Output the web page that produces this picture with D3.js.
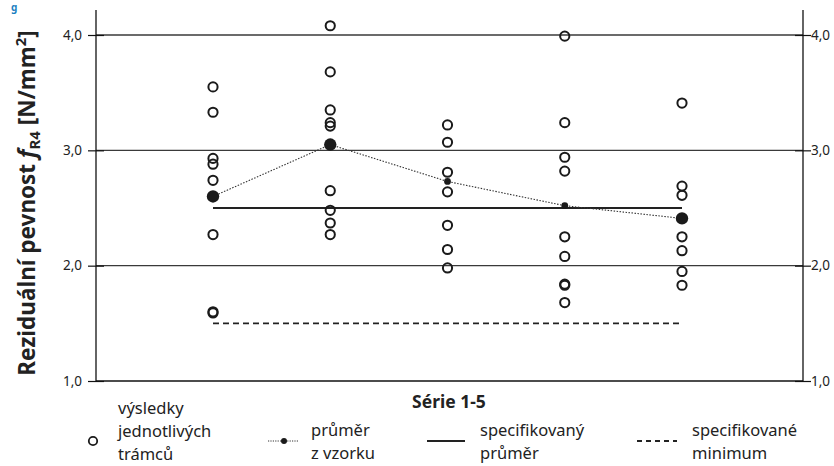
<!DOCTYPE html>
<html><head><meta charset="utf-8">
<script src="https://cdn.jsdelivr.net/npm/d3@7/dist/d3.min.js"></script>
<style>body{margin:0;background:#fff}svg{display:block}text{font-family:"Noto Sans",sans-serif}</style>
</head><body>
<script>
const series = ["1","2","3","4","5"];
const results = [
  [3.55,3.33,2.93,2.88,2.74,2.27,1.60,1.59],
  [4.08,3.68,3.35,3.24,3.21,2.65,2.48,2.37,2.27],
  [3.22,3.07,2.81,2.64,2.35,2.14,1.98],
  [3.99,3.24,2.94,2.82,2.25,2.08,1.84,1.83,1.68],
  [3.41,2.69,2.61,2.25,2.13,1.95,1.83]
];
const sampleMeans = [2.60,3.05,2.73,2.52,2.41];
const specMean = 2.5;
const specMin = 1.5;
const yTicks = [1.0,2.0,3.0,4.0];
const yLabels = ["1,0","2,0","3,0","4,0"];
const legendItems = [
  {kind:"circle", lines:["výsledky","jednotlivých","trámců"]},
  {kind:"mean", lines:["průměr","z vzorku"]},
  {kind:"solid", lines:["specifikovaný","průměr"]},
  {kind:"dashed", lines:["specifikované","minimum"]}
];

const W=834,H=466;
const svg=d3.select("body").append("svg").attr("width",W).attr("height",H);
const left=96,right=803;
const y=d3.scaleLinear().domain([1,4]).range([381,35]);
const x=d3.scalePoint().domain(series).range([213,682]);
const bigMean=[true,true,false,false,true];

// blue fragment at top-left
svg.append("text").attr("x",11).attr("y",11).attr("fill","#1a7fc1").attr("font-size",10).attr("font-weight",700).text("g");

// gridlines
svg.append("g").selectAll("line").data(yTicks.slice(1)).join("line")
  .attr("x1",left).attr("x2",right).attr("y1",d=>y(d)).attr("y2",d=>y(d))
  .attr("stroke","#3a3a3a").attr("stroke-width",1.4);

// axes
const yl=d3.axisLeft(y).tickValues(yTicks).tickFormat((d,i)=>yLabels[i]).tickSize(8).tickSizeOuter(0);
const yr=d3.axisRight(y).tickValues(yTicks).tickFormat((d,i)=>yLabels[i]).tickSize(8).tickSizeOuter(0);
function styleAxis(g,side){
  g.select(".domain").remove();
  g.selectAll("line").attr("stroke","#111").attr("stroke-width",1.2);
  g.selectAll(".tick").append("line").attr("x1",0).attr("x2",side*8).attr("stroke","#111").attr("stroke-width",1.2);
  g.selectAll("text").attr("font-size",13.5).attr("fill","#222").attr("font-family","Noto Sans");
}
const gl=svg.append("g").attr("transform",`translate(${left},0)`).call(yl);
styleAxis(gl,1); gl.selectAll("text").attr("x",-14);
const gr=svg.append("g").attr("transform",`translate(${right},0)`).call(yr);
styleAxis(gr,-1); gr.selectAll("text").attr("x",8);
svg.append("line").attr("x1",left).attr("x2",left).attr("y1",10).attr("y2",381).attr("stroke","#111").attr("stroke-width",1.3);
svg.append("line").attr("x1",right).attr("x2",right).attr("y1",10).attr("y2",381).attr("stroke","#111").attr("stroke-width",1.3);
svg.append("line").attr("x1",left).attr("x2",right).attr("y1",y(1)).attr("y2",y(1)).attr("stroke","#111").attr("stroke-width",1.4);

// spec lines
const x0=x(series[0]), x1=x(series[series.length-1]);
svg.append("line").attr("x1",x0).attr("x2",x1).attr("y1",y(specMean)).attr("y2",y(specMean)).attr("stroke","#222").attr("stroke-width",1.8);
svg.append("line").attr("x1",x0).attr("x2",x1).attr("y1",y(specMin)).attr("y2",y(specMin)).attr("stroke","#222").attr("stroke-width",1.6).attr("stroke-dasharray","6,4");

// mean line
svg.append("path").datum(sampleMeans).attr("fill","none").attr("stroke","#333").attr("stroke-width",1.1).attr("stroke-dasharray","1.5,1.5")
  .attr("d",d3.line().x((d,i)=>x(series[i])).y(d=>y(d)));

// results
series.forEach((s,i)=>{
  svg.append("g").selectAll("circle").data(results[i]).join("circle")
    .attr("cx",x(s)).attr("cy",d=>y(d)).attr("r",4.6)
    .attr("fill","none").attr("stroke","#1a1a1a").attr("stroke-width",2);
});
// means
svg.append("g").selectAll("circle").data(sampleMeans).join("circle")
  .attr("cx",(d,i)=>x(series[i])).attr("cy",d=>y(d)).attr("r",(d,i)=>bigMean[i]?6.2:3.4).attr("fill","#1a1a1a");

// y title
const yt=svg.append("text").attr("transform","translate(35,203) rotate(-90)").attr("text-anchor","middle")
  .attr("font-size",22.5).attr("font-weight",700).attr("fill","#222");
yt.append("tspan").text("Reziduální pevnost  ");
yt.append("tspan").attr("font-style","italic").text("f");
yt.append("tspan").attr("font-size",15).attr("dy",5).text("R4");
yt.append("tspan").attr("dy",-5).text(" [N/mm");
yt.append("tspan").attr("font-size",15).attr("dy",-9).text("2");
yt.append("tspan").attr("dy",9).text("]");

// x title
svg.append("text").attr("x",449).attr("y",408).attr("text-anchor","middle").attr("font-size",17.5).attr("font-weight",700).attr("fill","#222").text("Série 1-5");

// legend
const lx=[93,268,427,637], tx=[118,311,480,692];
legendItems.forEach((it,i)=>{
  const g=svg.append("g");
  if(it.kind==="circle") g.append("circle").attr("cx",lx[i]).attr("cy",441).attr("r",4.2).attr("fill","none").attr("stroke","#1a1a1a").attr("stroke-width",1.8);
  if(it.kind==="mean"){
    g.append("line").attr("x1",lx[i]).attr("x2",lx[i]+31).attr("y1",441).attr("y2",441).attr("stroke","#333").attr("stroke-dasharray","1.2,1.2");
    g.append("circle").attr("cx",lx[i]+16).attr("cy",441).attr("r",3).attr("fill","#1a1a1a");
  }
  if(it.kind==="solid") g.append("line").attr("x1",lx[i]).attr("x2",lx[i]+38).attr("y1",441).attr("y2",441).attr("stroke","#222").attr("stroke-width",1.8);
  if(it.kind==="dashed") g.append("line").attr("x1",lx[i]).attr("x2",lx[i]+40).attr("y1",441).attr("y2",441).attr("stroke","#222").attr("stroke-width",1.8).attr("stroke-dasharray","5,4");
  const t=g.append("text").attr("font-size",16.5).attr("fill","#222");
  const three = it.lines.length===3;
  const y0 = three ? 414 : 436;
  it.lines.forEach((l,j)=>t.append("tspan").attr("x",tx[i]).attr("y",y0+j*23).text(l));
});
</script>
</body></html>
